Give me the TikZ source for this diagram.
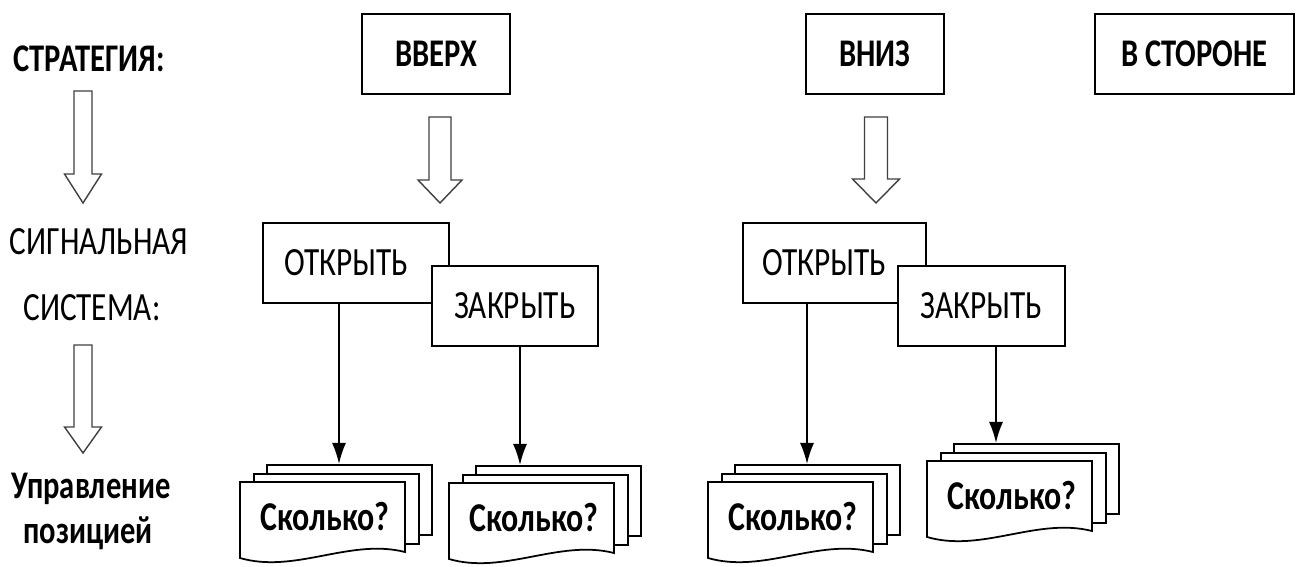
\documentclass[tikz,border=0pt]{standalone}
\usepackage{fontspec}
\setmainfont{Carlito}[FakeStretch=0.78]
\usetikzlibrary{arrows.meta}
\def\px{0.02cm}
\tikzset{
  x=0.02cm, y=-0.02cm,
  boxnode/.style={draw, line width=1.1pt, fill=white, inner sep=0pt},
  bigbold/.style={font=\fontsize{22.3}{26}\selectfont\bfseries},
  sigfont/.style={font=\fontsize{22.8}{26}\selectfont},
  conn/.style={line width=1pt, -{Latex[length=12pt,width=8pt]}},
  sheet/.style={draw, line width=1pt, fill=white, inner sep=0pt, minimum width=165*\px, minimum height=70*\px, anchor=north west},
  sheetline/.style={draw, line width=1pt, fill=white},
  hollow/.style={draw=black!75, line width=0.8pt, fill=white, line join=miter},
  doctext/.style={font=\fontsize{23.3}{27}\selectfont\bfseries, anchor=base, inner sep=0pt},
}
\newcommand\hollowarrow[6]{% xc ytop yhead ytip halfshaft halfhead
  \draw[hollow] (#1-#5,#2) -- (#1+#5,#2) -- (#1+#5,#3) -- (#1+#6,#3) -- (#1,#4) -- (#1-#6,#3) -- (#1-#5,#3) -- cycle;}
\newcommand\docstack[4]{% name, x0, y0, text
  \node[sheet] (#1b) at (#2+26,#3-18) {};
  \node[sheet] (#1m) at (#2+13,#3-9) {};
  \draw[sheetline] (#2,#3) -- (#2+165,#3) -- (#2+165,#3+70)
     .. controls (#2+110,#3+56) and (#2+55,#3+92) .. (#2,#3+76) -- cycle;
  \node[doctext] (#1) at (#2+85,#3+48) {#4};}
\begin{document}
\begin{tikzpicture}
\useasboundingbox (0,0) rectangle (1300,567);
% left column labels
\node[bigbold, anchor=base] (strat) at (89,72) {СТРАТЕГИЯ:};
\node[sigfont, anchor=base] (sig1) at (99,255) {СИГНАЛЬНАЯ};
\node[sigfont, anchor=base] (sig2) at (92,320) {СИСТЕМА:};
\node[bigbold, anchor=base] (pos1) at (91,498) {Управление};
\node[bigbold, anchor=base] (pos2) at (88,543) {позицией};
% strategy boxes
\node[boxnode, bigbold, minimum width=148*\px, minimum height=80*\px] (up) at (436,54) {ВВЕРХ};
\node[boxnode, bigbold, minimum width=138*\px, minimum height=80*\px] (down) at (875,54) {ВНИЗ};
\node[boxnode, bigbold, minimum width=199*\px, minimum height=80*\px] (side) at (1194.5,54) {В СТОРОНЕ};
% hollow arrows
\hollowarrow{83}{91}{174}{203}{9}{18.5}
\hollowarrow{83}{345}{427}{453}{9}{18.5}
\hollowarrow{440}{117}{180}{203}{11}{22}
\hollowarrow{876}{117}{179}{203}{11.5}{23.5}
% signal boxes
\node[boxnode, sigfont, minimum width=186*\px, minimum height=80*\px] (o1) at (356,263) {\hspace*{-0.4cm}ОТКРЫТЬ};
\node[boxnode, sigfont, minimum width=166*\px, minimum height=80*\px] (c1) at (515,306) {ЗАКРЫТЬ};
\node[boxnode, sigfont, minimum width=183*\px, minimum height=80*\px] (o2) at (834.5,263) {\hspace*{-0.4cm}ОТКРЫТЬ};
\node[boxnode, sigfont, minimum width=167*\px, minimum height=80*\px] (c2) at (981.5,306) {ЗАКРЫТЬ};
% document stacks
\docstack{s1}{240}{482}{Сколько?}
\docstack{s2}{449}{483}{Сколько?}
\docstack{s3}{708}{482}{Сколько?}
\docstack{s4}{927}{461}{Сколько?}
% connectors
\path (o1.south) ++(-17,0) coordinate (a1);
\draw[conn] (a1) -- (a1 |- s1b.north);
\path (c1.south) ++(5,0) coordinate (a2);
\draw[conn] (a2) -- (a2 |- s2b.north);
\path (o2.south) ++(-27.5,0) coordinate (a3);
\draw[conn] (a3) -- (a3 |- s3b.north);
\path (c2.south) ++(14.5,0) coordinate (a4);
\draw[conn] (a4) -- (a4 |- s4b.north);
\end{tikzpicture}
\end{document}
